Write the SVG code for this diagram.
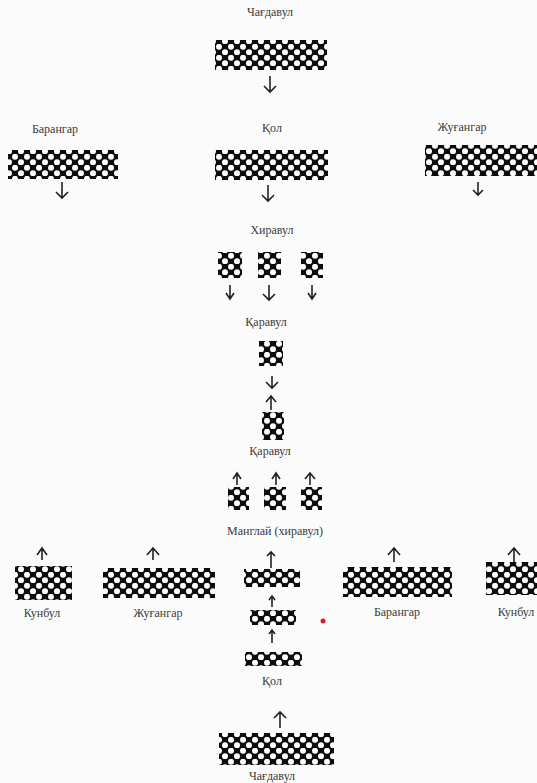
<svg xmlns="http://www.w3.org/2000/svg" width="537" height="783" viewBox="0 0 537 783">
<style>
.lbl{font-family:"Liberation Serif","DejaVu Serif",serif;font-size:12px;fill:#3a3a3a;text-anchor:middle}
.blk{fill:url(#dots)}
.arr{stroke:#222;stroke-width:1.6;fill:none}
</style>
<defs>
<pattern id="dots" width="12" height="11" patternUnits="userSpaceOnUse">
<rect width="12" height="11" fill="#0d0d0d"/>
<circle cx="3" cy="2.8" r="3" fill="#fff"/>
<circle cx="9" cy="8.3" r="3" fill="#fff"/>
</pattern>
</defs>
<rect width="537" height="783" fill="#fbfbfb"/>
<g id="connectors">
<path class="arr" d="M270 76V92M264 86L270 92L276 86"/>
<path class="arr" d="M62 182V198M56 192L62 198L68 192"/>
<path class="arr" d="M268 185V201M262 195L268 201L274 195"/>
<path class="arr" d="M478 182V195M473 190L478 195L483 190"/>
<path class="arr" d="M230 285V298M226 293L230 299L234 293"/>
<path class="arr" d="M269 285V300M263 294L269 300L275 294"/>
<path class="arr" d="M312 285V298M308 293L312 299L316 293"/>
<path class="arr" d="M272 376V388M266 382L272 388L278 382"/>
<path class="arr" d="M271 410V396M266 402L271 396L276 402"/>
<path class="arr" d="M237 485V473M233 479L237 473L241 479"/>
<path class="arr" d="M276 485V473M272 479L276 473L280 479"/>
<path class="arr" d="M310 485V473M305 479L310 473L315 479"/>
<path class="arr" d="M42 560V548M37 555L42 548L47 555"/>
<path class="arr" d="M153 560V548M147 555L153 548L159 555"/>
<path class="arr" d="M271 568V552M267 556L271 552L275 556"/>
<path class="arr" d="M394 562V548M388 555L394 548L400 555"/>
<path class="arr" d="M514 562V548M508 555L514 548L520 555"/>
<path class="arr" d="M272 607V596M269 600L272 596L275 600"/>
<path class="arr" d="M272 643V630M269 634L272 630L275 634"/>
<path class="arr" d="M280 728V712M274 718L280 712L286 718"/>
</g>
<g id="chagdavul-top"><text class="lbl" x="270" y="16">Чағдавул</text><rect class="blk" x="215" y="40" width="112" height="30"/></g>
<g id="barangar-top"><text class="lbl" x="55" y="133">Барангар</text><rect class="blk" x="8" y="150" width="110" height="29"/></g>
<g id="qol-top"><text class="lbl" x="272" y="132">Қол</text><rect class="blk" x="215" y="150" width="113" height="30"/></g>
<g id="zhugangar-top"><text class="lbl" x="462" y="131">Жуғангар</text><rect class="blk" x="425" y="145" width="112" height="31"/></g>
<g id="hiravul-top"><text class="lbl" x="272" y="234">Хиравул</text>
<rect class="blk" x="218" y="252" width="24" height="26"/><rect class="blk" x="258" y="252" width="23" height="26"/><rect class="blk" x="301" y="252" width="22" height="26"/></g>
<g id="qaravul-1"><text class="lbl" x="266" y="326">Қаравул</text><rect class="blk" x="259" y="341" width="24" height="25"/></g>
<g id="qaravul-2"><rect class="blk" x="262" y="412" width="22" height="28"/><text class="lbl" x="270" y="455">Қаравул</text></g>
<g id="manglai"><rect class="blk" x="228" y="487" width="21" height="23"/><rect class="blk" x="264" y="487" width="22" height="23"/><rect class="blk" x="301" y="487" width="21" height="23"/>
<text class="lbl" x="275" y="535">Манглай  (хиравул)</text></g>
<g id="kunbul-left"><rect class="blk" x="15" y="566" width="57" height="34"/><text class="lbl" x="42" y="617">Кунбул</text></g>
<g id="zhugangar-bottom"><rect class="blk" x="103" y="568" width="112" height="30"/><text class="lbl" x="158" y="617">Жуғангар</text></g>
<g id="center-1"><rect class="blk" x="244" y="569" width="56" height="18"/></g>
<g id="barangar-bottom"><rect class="blk" x="343" y="567" width="109" height="30"/><text class="lbl" x="397" y="616">Барангар</text></g>
<g id="kunbul-right"><rect class="blk" x="486" y="562" width="51" height="33"/><text class="lbl" x="516" y="616">Кунбул</text></g>
<g id="center-2"><rect class="blk" x="250" y="610" width="46" height="15"/></g>
<g id="qol-bottom"><rect class="blk" x="245" y="652" width="57" height="14"/><text class="lbl" x="272" y="685">Қол</text></g>
<g id="chagdavul-bottom"><rect class="blk" x="219" y="733" width="115" height="32"/><text class="lbl" x="272" y="780">Чағдавул</text></g>
<circle cx="323" cy="621" r="2.5" fill="#d02030"/>
</svg>
